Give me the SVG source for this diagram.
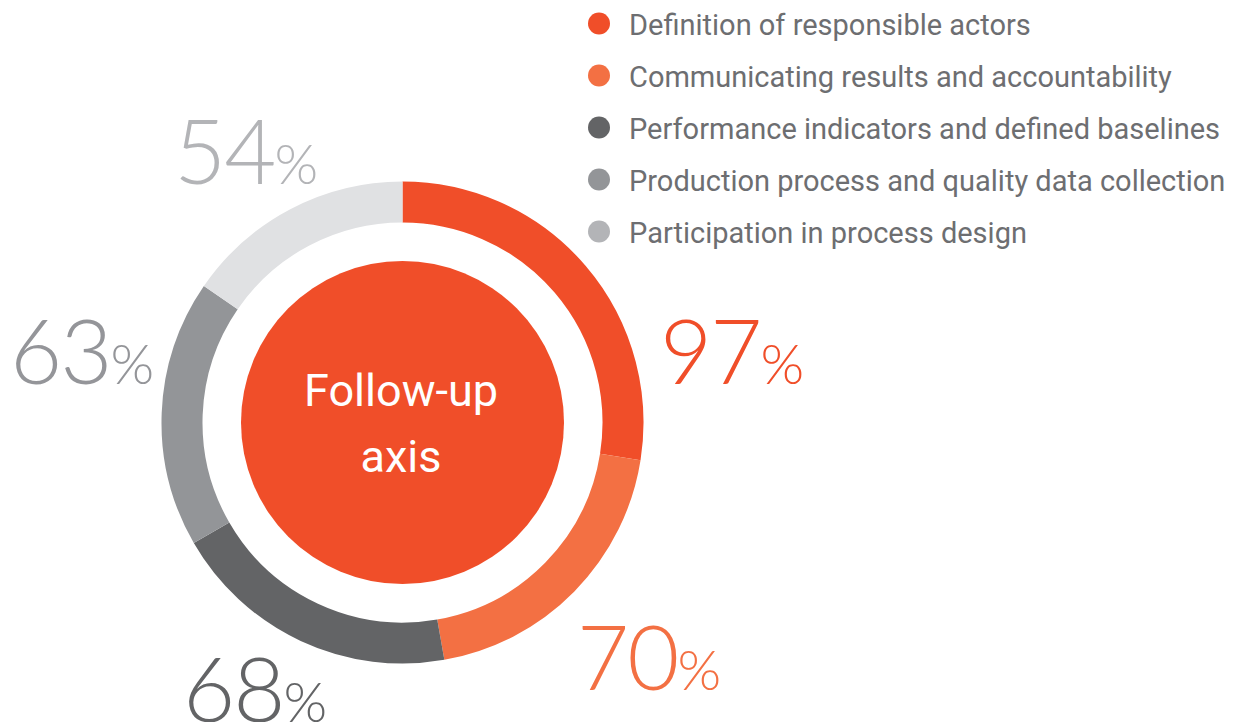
<svg xmlns="http://www.w3.org/2000/svg" width="1233" height="722" viewBox="0 0 1233 722">
<style>
.seg{fill:none;stroke-width:41}
.leg{font-family:Roboto,"Liberation Sans",sans-serif;font-size:29px;fill:#6D6E71}
.pct{font-family:Lato,"Liberation Sans",sans-serif;font-weight:300}
.big{font-size:90px;letter-spacing:-2px}
.sm{font-size:56px}
.ctr{font-family:Roboto,"Liberation Sans",sans-serif;font-size:45px;fill:#FFFFFF;text-anchor:middle}
</style>
<rect width="1233" height="722" fill="#FFFFFF"/>
<g id="ring">
<path id="seg1" class="seg" stroke="#F04E29" d="M402.5,202 A220.5,220.5 0 0 1 620.29,456.99"/>
<path id="seg2" class="seg" stroke="#F37043" d="M620.29,456.99 A220.5,220.5 0 0 1 440.79,639.65"/>
<path id="seg3" class="seg" stroke="#636466" d="M440.79,639.65 A220.5,220.5 0 0 1 211.54,532.75"/>
<path id="seg4" class="seg" stroke="#939598" d="M211.54,532.75 A220.5,220.5 0 0 1 220.78,297.61"/>
<path id="seg5" class="seg" stroke="#E0E1E3" d="M220.78,297.61 A220.5,220.5 0 0 1 402.5,202"/>
</g>
<g id="center">
<circle cx="402.5" cy="422.5" r="161.5" fill="#F04E29"/>
<text class="ctr" x="401" y="406">Follow-up</text>
<text class="ctr" x="401" y="471.5">axis</text>
</g>
<g id="labels">
<text class="pct" x="174" y="183.5" fill="#B3B4B7"><tspan class="big">54</tspan><tspan class="sm">%</tspan></text>
<text class="pct" x="10" y="383.5" fill="#949599"><tspan class="big">63</tspan><tspan class="sm">%</tspan></text>
<text class="pct" x="660" y="384" fill="#F04E29"><tspan class="big">97</tspan><tspan class="sm">%</tspan></text>
<text class="pct" x="577" y="690" fill="#F37043"><tspan class="big">70</tspan><tspan class="sm">%</tspan></text>
<text class="pct" x="183" y="722" fill="#636466"><tspan class="big">68</tspan><tspan class="sm">%</tspan></text>
</g>
<g id="legend">
<g id="leg1"><circle cx="599" cy="23.5" r="11" fill="#F04E29"/><text class="leg" x="629" y="34.5">Definition of responsible actors</text></g>
<g id="leg2"><circle cx="599" cy="75.5" r="11" fill="#F37043"/><text class="leg" x="629" y="86.5">Communicating results and accountability</text></g>
<g id="leg3"><circle cx="599" cy="127.5" r="11" fill="#636466"/><text class="leg" x="629" y="138.5">Performance indicators and defined baselines</text></g>
<g id="leg4"><circle cx="599" cy="179.5" r="11" fill="#939598"/><text class="leg" x="629" y="190.5">Production process and quality data collection</text></g>
<g id="leg5"><circle cx="599" cy="231.5" r="11" fill="#B3B4B7"/><text class="leg" x="629" y="242.5">Participation in process design</text></g>
</g>
</svg>
